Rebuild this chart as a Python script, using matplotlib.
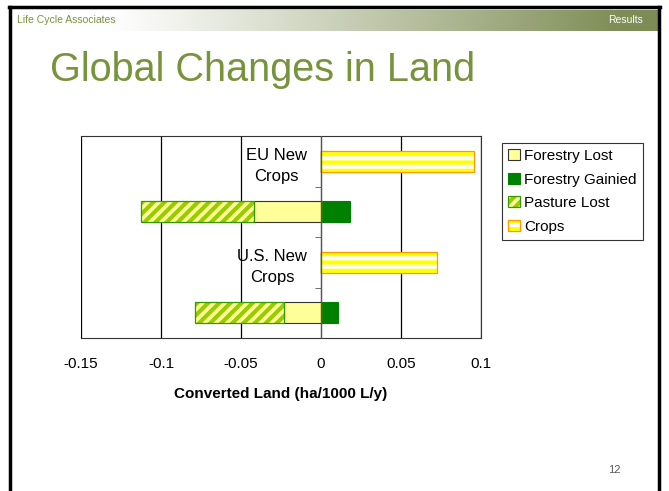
import matplotlib.pyplot as plt
import numpy as np
from matplotlib.patches import Patch
from matplotlib.lines import Line2D

plt.rcParams['font.family'] = ['Liberation Sans', 'DejaVu Sans']
plt.rcParams['hatch.linewidth'] = 3.0

# rows from top to bottom
categories = ['EU New\nCrops', '', 'U.S. New\nCrops', '']
forestry_lost = [0, -0.042, 0, -0.0233]
forestry_gained = [0, 0.0183, 0, 0.0106]
pasture_lost = [0, -0.0707, 0, -0.0557]
crops = [0.0956, 0, 0.0724, 0]
x_ticks = [-0.15, -0.1, -0.05, 0, 0.05, 0.1]
x_tick_labels = ['-0.15', '-0.1', '-0.05', '0', '0.05', '0.1']

W, H = 669, 491
fig = plt.figure(figsize=(W / 100, H / 100), dpi=100)

# slide background: header band + border
bg = fig.add_axes([0, 0, 1, 1], zorder=0)
bg.set_xlim(0, W)
bg.set_ylim(H, 0)
bg.axis('off')
xs = np.linspace(0, 1, 600)
ramp = np.clip((xs - 0.15) / 0.8, 0, 1) ** 1.1
c_left = np.array([1.0, 1.0, 1.0])
c_right = np.array([0.49, 0.55, 0.33])
band = c_left[None, :] * (1 - ramp[:, None]) + c_right[None, :] * ramp[:, None]
bg.imshow(band[None, :, :], extent=(10, 658, 31, 10), aspect='auto', zorder=1)
bg.add_line(Line2D([10, 10], [7, H], color='black', lw=2.5, zorder=3))
bg.add_line(Line2D([9, 660], [7, 7], color='black', lw=2.5, zorder=3))
bg.add_line(Line2D([659, 659], [7, H], color='black', lw=2.5, zorder=3))
bg.text(17, 20, 'Life Cycle Associates', color='#77933C', fontsize=7.5,
        va='center', ha='left', zorder=4)
bg.text(643, 20, 'Results', color='white', fontsize=7.5,
        va='center', ha='right', zorder=4)
bg.text(50, 81, 'Global Changes in Land', color='#77933C', fontsize=28.5,
        va='baseline', ha='left', zorder=4)
bg.text(614, 470, '12', color='#595959', fontsize=8, ha='center',
        va='center', zorder=4)

ax = fig.add_axes([81 / W, 1 - 338 / H, 400 / W, 202 / H], zorder=2)
y = np.arange(len(categories))
h = 0.42

ax.barh(y, forestry_lost, height=h, color='#FFFF99', edgecolor='#333333',
        linewidth=0.8, zorder=3)
ax.barh(y, forestry_gained, height=h, color='#008000', edgecolor='#008000',
        linewidth=0.8, zorder=3)
ax.barh(y, pasture_lost, left=forestry_lost, height=h, color='#FFFF99',
        edgecolor='#99CC00', hatch='///', linewidth=0, zorder=3)
ax.barh(y, pasture_lost, left=forestry_lost, height=h, fill=False,
        edgecolor='#339900', linewidth=0.9, zorder=4)
ax.barh(y, crops, height=h, color='white', edgecolor='#FFFF00', hatch='--',
        linewidth=0, zorder=3)
ax.barh(y, crops, height=h, fill=False, edgecolor='#FF9900', linewidth=0.9,
        zorder=4)

ax.set_xlim(-0.15, 0.1)
ax.set_ylim(len(categories) - 0.5, -0.5)
ax.set_xticks(x_ticks)
ax.set_xticklabels(x_tick_labels, fontsize=11)
ax.tick_params(axis='x', length=0, pad=14)
ax.grid(axis='x', color='black', linewidth=0.9, zorder=1)
ax.set_xlabel('Converted Land (ha/1000 L/y)', fontsize=11, fontweight='bold',
              labelpad=11)

# category axis sits on x = 0
ax.spines['left'].set_position(('data', 0))
ax.spines['left'].set_color('#555555')
ax.spines['left'].set_zorder(5)
for s in ['top', 'bottom', 'right']:
    ax.spines[s].set_color('#333333')
ax.set_yticks(y)
ax.set_yticklabels(categories, fontsize=12)
for t in ax.get_yticklabels():
    t.set_multialignment('center')
    t.set_linespacing(1.5)
ax.set_yticks(y[:-1] + 0.5, minor=True)
ax.tick_params(axis='y', which='major', length=0, pad=10)
ax.tick_params(axis='y', which='minor', length=4, direction='out',
               color='#555555')

handles = [
    Patch(facecolor='#FFFF99', edgecolor='#333333', linewidth=0.8),
    Patch(facecolor='#008000', edgecolor='#008000', linewidth=0.8),
    (Patch(facecolor='#FFFF99', edgecolor='#99CC00', hatch='///', linewidth=0),
     Patch(fill=False, edgecolor='#339900', linewidth=0.9)),
    (Patch(facecolor='white', edgecolor='#FFFF00', hatch='--', linewidth=0),
     Patch(fill=False, edgecolor='#FF9900', linewidth=0.9)),
]
labels = ['Forestry Lost', 'Forestry Gainied', 'Pasture Lost', 'Crops']
leg = fig.legend(handles, labels, loc='upper left',
                 bbox_to_anchor=(502 / W, 1 - 143 / H), fontsize=11,
                 frameon=True, fancybox=False, edgecolor='black',
                 handlelength=0.75, handleheight=0.75, handletextpad=0.3,
                 labelspacing=0.62, borderpad=0.4, borderaxespad=0)
leg.get_frame().set_linewidth(0.8)

fig.savefig('out.png', dpi=100)
